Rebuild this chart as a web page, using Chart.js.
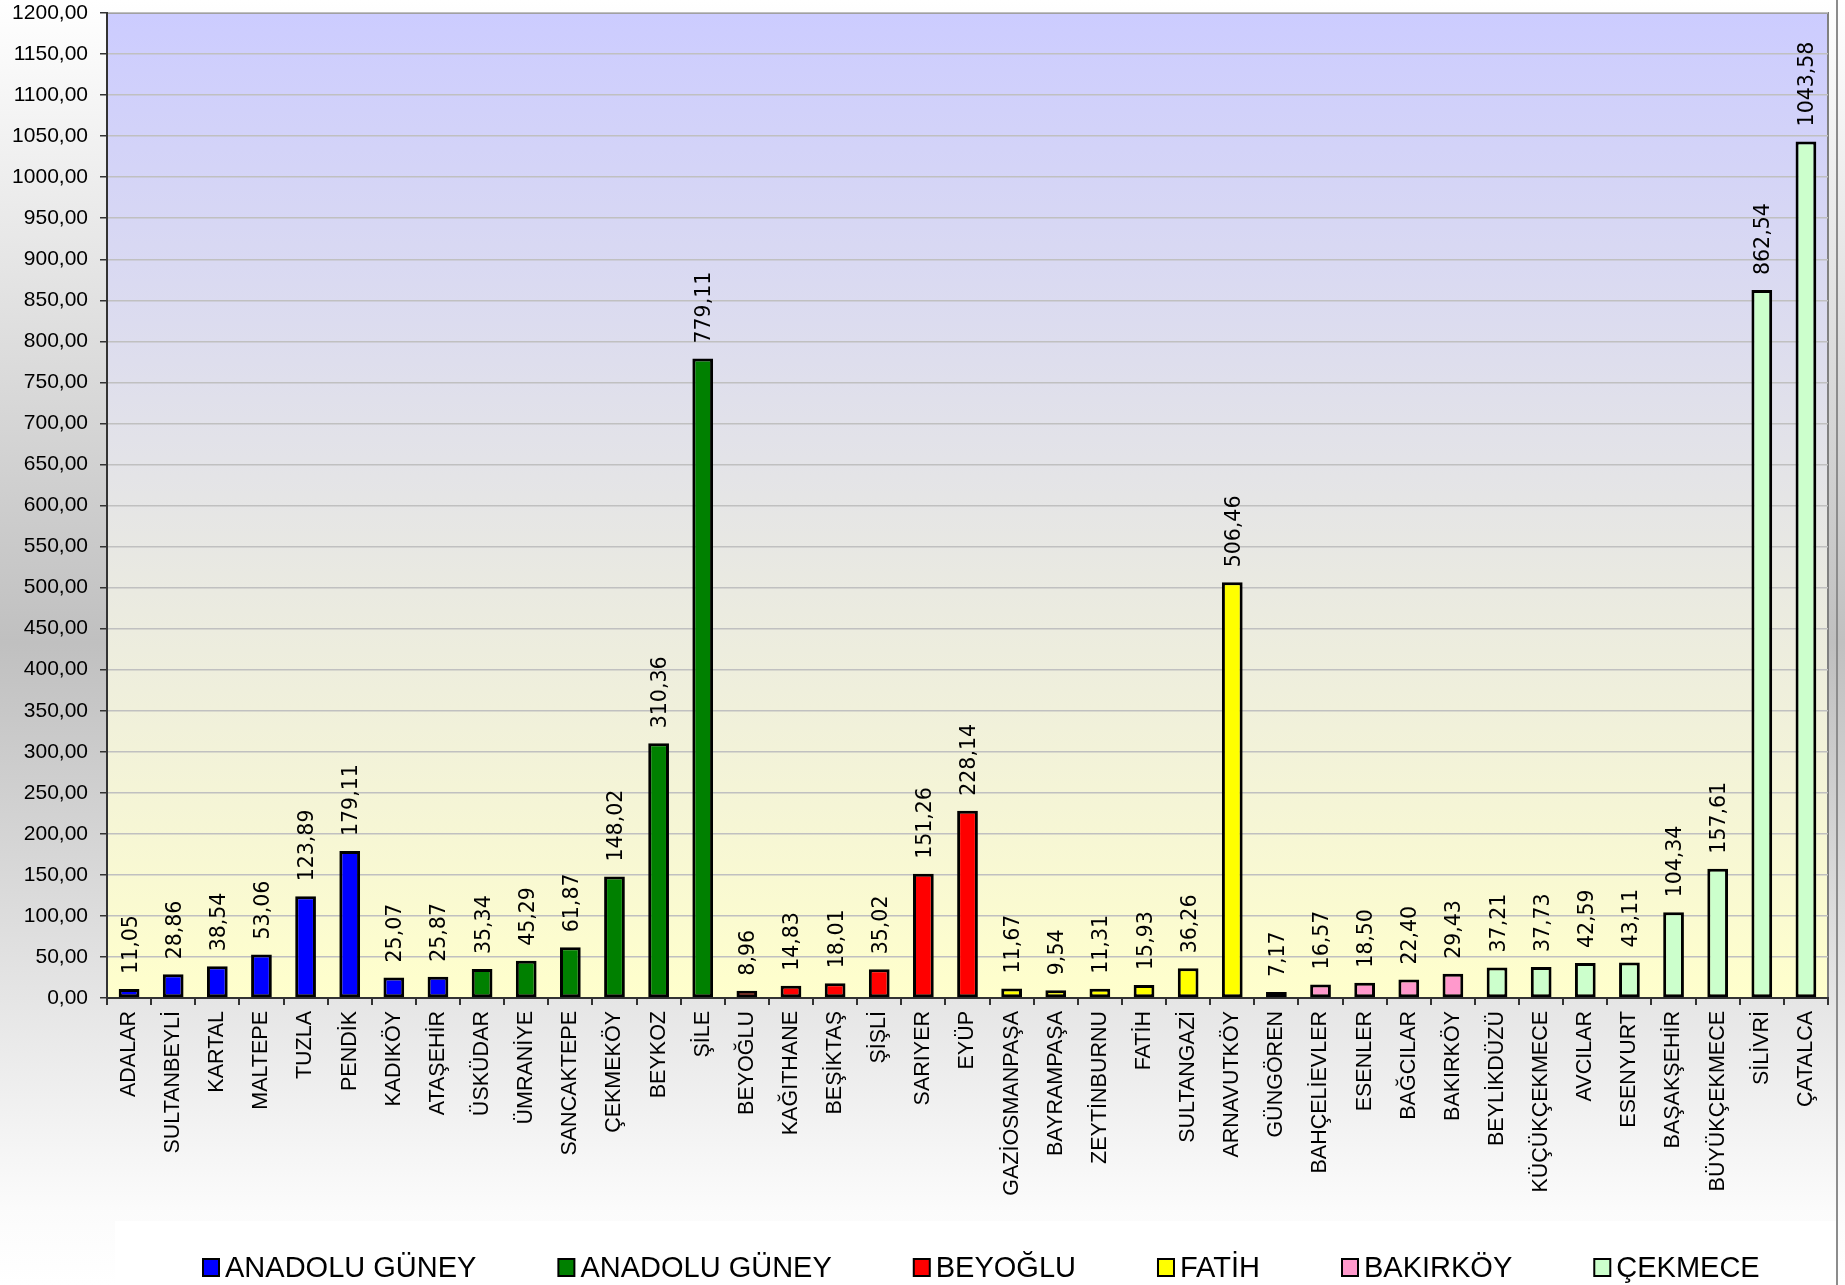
<!DOCTYPE html>
<html>
<head>
<meta charset="utf-8">
<script src="https://cdn.jsdelivr.net/npm/chart.js@4/dist/chart.umd.min.js"></script>
<style>
  html,body{margin:0;padding:0;background:#fff;}
  #c{display:block;}
</style>
</head>
<body>
<canvas id="c" width="1845" height="1285"></canvas>
<script>
// ===== veri =====
const categories = ['ADALAR','SULTANBEYLİ','KARTAL','MALTEPE','TUZLA','PENDİK','KADIKÖY','ATAŞEHİR',
  'ÜSKÜDAR','ÜMRANİYE','SANCAKTEPE','ÇEKMEKÖY','BEYKOZ','ŞİLE',
  'BEYOĞLU','KAĞITHANE','BEŞİKTAŞ','ŞİŞLİ','SARIYER','EYÜP',
  'GAZİOSMANPAŞA','BAYRAMPAŞA','ZEYTİNBURNU','FATİH','SULTANGAZİ','ARNAVUTKÖY',
  'GÜNGÖREN','BAHÇELİEVLER','ESENLER','BAĞCILAR','BAKIRKÖY',
  'BEYLİKDÜZÜ','KÜÇÜKÇEKMECE','AVCILAR','ESENYURT','BAŞAKŞEHİR','BÜYÜKÇEKMECE','SİLİVRİ','ÇATALCA'];
const values = [11.05,28.86,38.54,53.06,123.89,179.11,25.07,25.87,
  35.34,45.29,61.87,148.02,310.36,779.11,
  8.96,14.83,18.01,35.02,151.26,228.14,
  11.67,9.54,11.31,15.93,36.26,506.46,
  7.17,16.57,18.50,22.40,29.43,
  37.21,37.73,42.59,43.11,104.34,157.61,862.54,1043.58];
const groupNames = ['ANADOLU GÜNEY','ANADOLU GÜNEY','BEYOĞLU','FATİH','BAKIRKÖY','ÇEKMECE'];
const groupOf = [0,0,0,0,0,0,0,0, 1,1,1,1,1,1, 2,2,2,2,2,2, 3,3,3,3,3,3, 4,4,4,4,4, 5,5,5,5,5,5,5,5];
const groupColors = ['#0000ff','#008000','#ff0000','#ffff00','#ff99cc','#ccffcc'];
const yMax = 1200, yStep = 50;

// ===== yardımcılar =====
const fmt = v => v.toFixed(2).replace('.', ',');

const datasets = groupNames.map((name, gi) => ({
  label: name,
  data: values.map((v, i) => groupOf[i] === gi ? v : null),
  backgroundColor: groupColors[gi],
  borderColor: '#000',
  borderWidth: 3,
  borderSkipped: false,
  grouped: false,
  barPercentage: 0.47,
  categoryPercentage: 1
}));

// arka plan, çizim alanı degrade ve lejant kutusu
const bgPlugin = {
  id: 'bg',
  beforeDraw(chart) {
    const {ctx, width, height, chartArea: a} = chart;
    ctx.save();
    let g = ctx.createLinearGradient(0, 0, 0, height);
    g.addColorStop(0, '#ffffff');
    g.addColorStop(0.5, '#c0c0c0');
    g.addColorStop(0.94, '#fbfbfb');
    g.addColorStop(1, '#ffffff');
    ctx.fillStyle = g;
    ctx.fillRect(0, 0, width, height);
    // lejant için beyaz kutu
    ctx.fillStyle = '#ffffff';
    ctx.fillRect(115, 1221, 1721, height - 1221);
    // çizim alanı
    g = ctx.createLinearGradient(0, a.top, 0, a.bottom);
    g.addColorStop(0, '#ccccff');
    g.addColorStop(1, '#ffffcc');
    ctx.fillStyle = g;
    ctx.fillRect(a.left, a.top, a.right - a.left, a.bottom - a.top);
    ctx.strokeStyle = '#808080';
    ctx.lineWidth = 2;
    ctx.strokeRect(a.left, a.top, a.right - a.left, a.bottom - a.top);
    ctx.restore();
  },
  afterDraw(chart) {
    const {ctx, height} = chart;
    ctx.save();
    // sağ kenar çizgisi
    ctx.strokeStyle = '#8c8c8c';
    ctx.lineWidth = 2;
    ctx.beginPath(); ctx.moveTo(1837, 0); ctx.lineTo(1837, height); ctx.stroke();
    // lejant
    ctx.font = '29px "Liberation Sans", Arial, sans-serif';
    ctx.textBaseline = 'alphabetic';
    let x = 203;
    const boxTop = 1259, box = 16, gap = 6, spacing = 82, base = 1277;
    chart.data.datasets.forEach(ds => {
      ctx.fillStyle = ds.backgroundColor;
      ctx.fillRect(x, boxTop, box, box + 1);
      ctx.strokeStyle = '#000';
      ctx.lineWidth = 2;
      ctx.strokeRect(x, boxTop, box, box + 1);
      ctx.fillStyle = '#000';
      ctx.fillText(ds.label, x + box + gap, base);
      x += box + gap + ctx.measureText(ds.label).width + spacing;
    });
    ctx.restore();
  }
};

// çubuk üstü değer etiketleri (dikey)
const labelPlugin = {
  id: 'vlabels',
  afterDatasetsDraw(chart) {
    const ctx = chart.ctx;
    ctx.save();
    ctx.font = '20.5px "DejaVu Sans", Verdana, sans-serif';
    ctx.fillStyle = '#000';
    ctx.textAlign = 'left';
    ctx.textBaseline = 'alphabetic';
    chart.data.datasets.forEach((ds, di) => {
      const meta = chart.getDatasetMeta(di);
      meta.data.forEach((bar, i) => {
        const v = ds.data[i];
        if (v == null) return;
        ctx.save();
        ctx.translate(bar.x + 7.5, bar.y - 15);
        ctx.rotate(-Math.PI / 2);
        ctx.fillText(fmt(v), 0, 0);
        ctx.restore();
      });
    });
    ctx.restore();
  }
};

new Chart(document.getElementById('c'), {
  type: 'bar',
  data: {labels: categories, datasets},
  options: {
    responsive: false,
    animation: false,
    layout: {padding: {top: 13, right: 17, left: 0, bottom: 0}},
    plugins: {legend: {display: false}, tooltip: {enabled: false}},
    scales: {
      x: {
        grid: {display: true, drawOnChartArea: false, drawTicks: true, tickLength: 7, offset: true, tickColor: '#333', lineWidth: 2},
        border: {color: '#333', width: 2},
        ticks: {
          autoSkip: false, maxRotation: 90, minRotation: 90, padding: 6,
          color: '#000', font: {family: '"Liberation Sans", Arial, sans-serif', size: 21.5}
        },
        afterFit(s) { s.height = 287; }
      },
      y: {
        min: 0, max: yMax,
        grid: {color: '#c0c0c0', lineWidth: 1.5, tickLength: 7, tickColor: '#333'},
        border: {color: '#333', width: 2},
        ticks: {
          stepSize: yStep, padding: 12, color: '#000',
          font: {family: '"Liberation Sans", Arial, sans-serif', size: 21},
          callback: v => fmt(v)
        },
        afterFit(s) { s.width = 107; s.paddingTop = 0; s.paddingBottom = 0; }
      }
    }
  },
  plugins: [bgPlugin, labelPlugin]
});
</script>
</body>
</html>
